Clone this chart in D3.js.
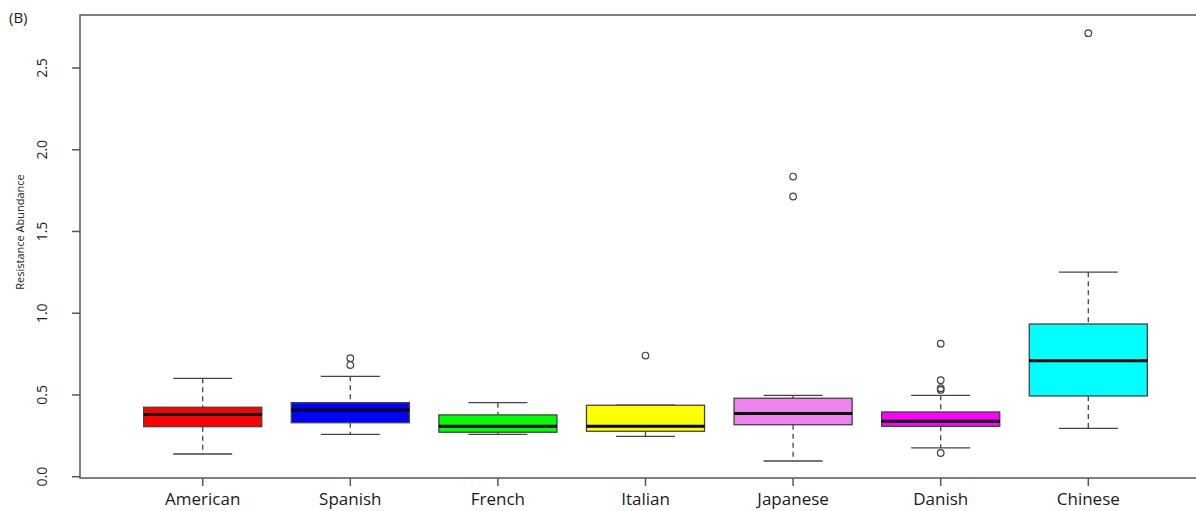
<!DOCTYPE html>
<html>
<head>
<meta charset="utf-8">
<script src="https://cdn.jsdelivr.net/npm/d3@7"></script>
<style>
  body { margin: 0; background: #fff; }
  text { font-family: "Open Sans", sans-serif; fill: #1a1a1a; }
</style>
</head>
<body>
<div id="chart"></div>
<script>
let groups = ["American", "Spanish", "French", "Italian", "Japanese", "Danish", "Chinese"]
let colors = ["#ff0000", "#0000ff", "#00ff00", "#ffff00", "#ee82ee", "#ff00ff", "#00ffff"]

// five-number summaries
let lowWhisker = [0.139, 0.259, 0.259, 0.247, 0.096, 0.176, 0.296]
let q1         = [0.306, 0.330, 0.272, 0.278, 0.318, 0.308, 0.494]
let medians    = [0.380, 0.408, 0.308, 0.308, 0.386, 0.339, 0.710]
let q3         = [0.425, 0.453, 0.378, 0.437, 0.480, 0.396, 0.934]
let highWhisker= [0.602, 0.614, 0.453, 0.437, 0.498, 0.498, 1.251]
let outliers   = [[], [0.683, 0.725], [], [0.741], [1.714, 1.836], [0.145, 0.531, 0.541, 0.590, 0.814], [2.713]]

let yTicks = [0, 0.5, 1.0, 1.5, 2.0, 2.5]

let width = 1196, height = 511
let margin = {top: 15, left: 80, bottom: 478}

let svg = d3.select('#chart').append('svg')
    .attr('width', width).attr('height', height)

let x = d3.scaleLinear().domain([1, 7]).range([202.7, 1088.3])
let step = x(2) - x(1)
let boxW = step * 0.8
let y = d3.scaleLinear().domain([0, 2.5]).range([476.7, 68])

// frame (right edge falls outside the picture)
svg.append('path')
    .attr('d', `M${x(7.78)},${margin.top} H${margin.left} V${margin.bottom} H${x(7.78)}`)
    .attr('fill', 'none').attr('stroke', '#555').attr('stroke-width', 1.5)

// y axis
let yAxis = svg.append('g')
yAxis.selectAll('line').data(yTicks).enter().append('line')
    .attr('x1', 72).attr('x2', margin.left)
    .attr('y1', d => y(d)).attr('y2', d => y(d))
    .attr('stroke', '#555').attr('stroke-width', 1.5)
yAxis.selectAll('text').data(yTicks).enter().append('text')
    .attr('transform', d => `translate(47,${y(d)}) rotate(-90)`)
    .attr('text-anchor', 'middle')
    .style('font-size', '14px')
    .text(d => d.toFixed(1))

svg.append('text')
    .attr('transform', 'translate(24,232) rotate(-90)')
    .attr('text-anchor', 'middle')
    .style('font-size', '11px')
    .text('Resistance Abundance')

svg.append('text')
    .attr('x', 9).attr('y', 23)
    .style('font-size', '15px')
    .text('(B)')

// x axis
let xAxis = svg.append('g')
xAxis.selectAll('line').data(groups).enter().append('line')
    .attr('x1', (d, i) => x(i + 1)).attr('x2', (d, i) => x(i + 1))
    .attr('y1', margin.bottom).attr('y2', 486)
    .attr('stroke', '#555').attr('stroke-width', 1.5)
xAxis.selectAll('text').data(groups).enter().append('text')
    .attr('x', (d, i) => x(i + 1)).attr('y', 505)
    .attr('text-anchor', 'middle')
    .style('font-size', '17px')
    .text(d => d)

// boxes
let boxes = svg.selectAll('.box').data(groups).enter().append('g')
    .attr('class', 'box')
    .attr('transform', (d, i) => `translate(${x(i + 1)},0)`)

boxes.append('line')
    .attr('y1', (d, i) => y(highWhisker[i])).attr('y2', (d, i) => y(q3[i]))
    .attr('stroke', '#444').attr('stroke-width', 1.3).attr('stroke-dasharray', '5,4')
boxes.append('line')
    .attr('y1', (d, i) => y(q1[i])).attr('y2', (d, i) => y(lowWhisker[i]))
    .attr('stroke', '#444').attr('stroke-width', 1.3).attr('stroke-dasharray', '5,4')
boxes.append('line')
    .attr('x1', -boxW / 4).attr('x2', boxW / 4)
    .attr('y1', (d, i) => y(highWhisker[i])).attr('y2', (d, i) => y(highWhisker[i]))
    .attr('stroke', '#444').attr('stroke-width', 1.3)
boxes.append('line')
    .attr('x1', -boxW / 4).attr('x2', boxW / 4)
    .attr('y1', (d, i) => y(lowWhisker[i])).attr('y2', (d, i) => y(lowWhisker[i]))
    .attr('stroke', '#444').attr('stroke-width', 1.3)
boxes.append('rect')
    .attr('x', -boxW / 2).attr('width', boxW)
    .attr('y', (d, i) => y(q3[i]))
    .attr('height', (d, i) => y(q1[i]) - y(q3[i]))
    .attr('fill', (d, i) => colors[i])
    .attr('stroke', '#444').attr('stroke-width', 1.3)
boxes.append('line')
    .attr('x1', -boxW / 2).attr('x2', boxW / 2)
    .attr('y1', (d, i) => y(medians[i])).attr('y2', (d, i) => y(medians[i]))
    .attr('stroke', '#000').attr('stroke-width', 3)

boxes.selectAll('circle')
    .data((d, i) => outliers[i])
    .enter().append('circle')
    .attr('cx', 0).attr('cy', d => y(d))
    .attr('r', 3.3)
    .attr('fill', 'none').attr('stroke', '#444').attr('stroke-width', 1.2)
</script>
</body>
</html>
